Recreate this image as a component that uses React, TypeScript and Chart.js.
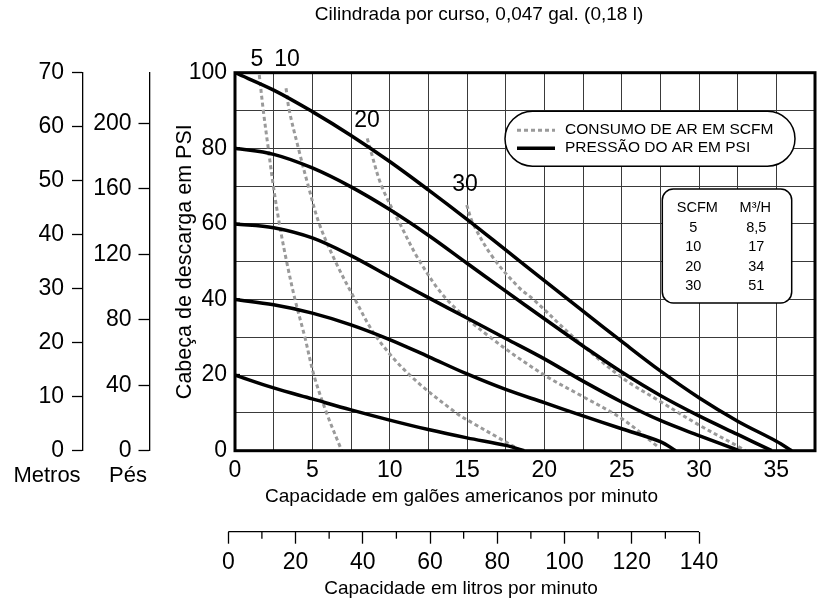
import React, { useEffect, useRef } from 'react';
import { Chart, registerables } from 'chart.js';

Chart.register(...registerables);

const FONT = "'Liberation Sans', Arial, Helvetica, sans-serif";

// ---- texts ----
const TITLE = 'Cilindrada por curso, 0,047 gal. (0,18 l)';
const X_TITLE = 'Capacidade em galões americanos por minuto';
const LPM_TITLE = 'Capacidade em litros por minuto';
const Y_TITLE = 'Cabeça de descarga em PSI';
const METROS_LABEL = 'Metros';
const PES_LABEL = 'Pés';
const LEGEND_LABELS = ['CONSUMO DE AR EM SCFM', 'PRESSÃO DO AR EM PSI'];
const TABLE_HEAD = ['SCFM', 'M³/H'];
const TABLE_SCFM = ['5', '10', '20', '30'];
const TABLE_M3H = ['8,5', '17', '34', '51'];

// ---- axes ----
const GPM_MIN = 0;
const GPM_MAX = 37.5;
const GPM_STEP = 2.5;
const GPM_LABEL_STEP = 5;
const PSI_MIN = 0;
const PSI_MAX = 100;
const PSI_STEP = 10;
const PSI_LABEL_STEP = 20;
const METROS_MAX = 70;
const METROS_STEP = 10;
const PES_MAX = 231;
const PES_STEP = 40;
const LPM_MIN = 2;
const LPM_MAX = 174.5;
const LPM_TICKS = [0, 20, 40, 60, 80, 100, 120, 140];
const LPM_MINOR = [10, 30, 50, 70, 90, 110, 130];

// ---- air pressure curves (gpm, psi) ----
const PSI_100 = [[0, 100], [2.5, 95.4], [5, 89.7], [7.5, 83.4], [10, 76.5], [12.5, 69], [15, 61.2], [17.5, 53.1], [20, 45], [22.5, 36.9], [25, 28.9], [27.5, 21.1], [30, 14], [32.5, 7.8], [35, 2.5], [36, 0]];
const PSI_80 = [[0, 80], [2.5, 78.4], [5, 74.8], [7.5, 69.8], [10, 63.8], [12.5, 57], [15, 49.6], [17.5, 42.2], [20, 34.9], [22.5, 27.7], [25, 20.8], [27.5, 14.6], [30, 9.2], [32.5, 4.3], [34.7, 0]];
const PSI_60 = [[0, 60], [2.5, 59], [5, 56.3], [7.5, 51.6], [10, 46], [12.5, 40.5], [15, 35.1], [17.5, 29.7], [20, 24.3], [22.5, 18.4], [25, 12.9], [27.5, 8], [30, 4], [32.6, 0]];
const PSI_40 = [[0, 40], [2.5, 38.6], [5, 36.4], [7.5, 33.3], [10, 29.4], [12.5, 24.9], [15, 20.3], [17.5, 16.2], [20, 12.7], [22.5, 9.2], [25, 5.8], [27.5, 2.4], [28.5, 0]];
const PSI_20 = [[0, 20], [2.5, 16.6], [5, 13.7], [7.5, 10.8], [10, 8.1], [12.5, 5.6], [15, 3.4], [17.5, 1.4], [18.7, 0]];

// ---- air consumption curves (gpm, psi) ----
const SCFM_5 = [[1.57, 99.4], [1.83, 90], [2.15, 80], [2.48, 70], [2.87, 60], [3.34, 50], [3.88, 40], [4.52, 30], [5.1, 20], [5.92, 10], [6.9, 0]];
const SCFM_10 = [[3.3, 95.9], [3.51, 90], [4.1, 80], [4.74, 70], [5.45, 60], [6.5, 50], [7.76, 40], [9.16, 30], [11.3, 20], [14.3, 10], [15.5, 7], [17, 3.5], [18.5, 0]];
const SCFM_20 = [[8.55, 82.6], [8.73, 80], [9.48, 70], [10.67, 60], [11.96, 50], [13.7, 40], [16.5, 30], [20, 20], [22.5, 14.3], [25, 8.5], [27.3, 1.2]];
const SCFM_30 = [[14.98, 65], [15.4, 60], [16.7, 51], [18.4, 43], [19.3, 40], [21.9, 30], [25, 19.4], [27.5, 13], [30, 6.8], [32.5, 1.2], [33, 0]];

// curve labels (text, gpm, psi)
const SCFM_LABELS = ['5', '10', '20', '30'];
const SCFM_LABEL_X = [1.42, 3.36, 8.53, 14.87];
const SCFM_LABEL_Y = [103.4, 103.4, 87.2, 70.3];

const PRESSURE_SERIES = [PSI_100, PSI_80, PSI_60, PSI_40, PSI_20];
const PRESSURE_NAMES = ['100 PSI', '80 PSI', '60 PSI', '40 PSI', '20 PSI'];
const SCFM_SERIES = [SCFM_5, SCFM_10, SCFM_20, SCFM_30];
const SCFM_NAMES = ['5 SCFM', '10 SCFM', '20 SCFM', '30 SCFM'];

const BLACK = '#000000';
const GRAY = '#9a9a9a';
const GRID = '#3a3a3a';

const TICK_SIZE = 23;
const TITLE_SIZE = 19;

const toPts = (arr: number[][]) => arr.map(([x, y]) => ({ x, y }));

function roundRectPath(ctx: CanvasRenderingContext2D, x: number, y: number, w: number, h: number, r: number) {
  ctx.beginPath();
  ctx.moveTo(x + r, y);
  ctx.lineTo(x + w - r, y);
  ctx.arcTo(x + w, y, x + w, y + r, r);
  ctx.lineTo(x + w, y + h - r);
  ctx.arcTo(x + w, y + h, x + w - r, y + h, r);
  ctx.lineTo(x + r, y + h);
  ctx.arcTo(x, y + h, x, y + h - r, r);
  ctx.lineTo(x, y + r);
  ctx.arcTo(x, y, x + r, y, r);
  ctx.closePath();
}

const overlayPlugin = {
  id: 'overlay',
  afterDatasetsDraw(chart: any) {
    const { ctx, chartArea: a, scales } = chart;
    const xs = scales.x;
    const ys = scales.y;
    ctx.save();

    // frame
    ctx.strokeStyle = BLACK;
    ctx.lineWidth = 3;
    ctx.strokeRect(a.left, a.top, a.right - a.left, a.bottom - a.top);

    // short inner marks at labelled psi values
    ctx.lineWidth = 2.5;
    for (let v = PSI_LABEL_STEP; v < PSI_MAX; v += PSI_LABEL_STEP) {
      const py = ys.getPixelForValue(v);
      ctx.beginPath();
      ctx.moveTo(a.left, py);
      ctx.lineTo(a.left + 5, py);
      ctx.stroke();
    }

    // curve labels
    ctx.fillStyle = BLACK;
    ctx.font = `${TICK_SIZE}px ${FONT}`;
    ctx.textAlign = 'center';
    ctx.textBaseline = 'middle';
    SCFM_LABELS.forEach((t, i) => {
      ctx.fillText(t, xs.getPixelForValue(SCFM_LABEL_X[i]), ys.getPixelForValue(SCFM_LABEL_Y[i]));
    });

    // legend pill
    const lx = a.left + 270;
    const lw = a.right - 20 - lx;
    const ly = a.top + 38.5;
    const lh = 55;
    roundRectPath(ctx, lx, ly, lw, lh, lh / 2);
    ctx.fillStyle = '#ffffff';
    ctx.fill();
    ctx.lineWidth = 1.5;
    ctx.strokeStyle = BLACK;
    ctx.stroke();
    ctx.lineWidth = 3;
    ctx.strokeStyle = GRAY;
    ctx.setLineDash([4, 3]);
    ctx.beginPath();
    ctx.moveTo(lx + 12, ly + 19);
    ctx.lineTo(lx + 50, ly + 19);
    ctx.stroke();
    ctx.setLineDash([]);
    ctx.lineWidth = 3.5;
    ctx.strokeStyle = BLACK;
    ctx.beginPath();
    ctx.moveTo(lx + 12, ly + 37);
    ctx.lineTo(lx + 50, ly + 37);
    ctx.stroke();
    ctx.fillStyle = BLACK;
    ctx.font = `15.5px ${FONT}`;
    ctx.textAlign = 'left';
    ctx.fillText(LEGEND_LABELS[0], lx + 60, ly + 19);
    ctx.fillText(LEGEND_LABELS[1], lx + 60, ly + 37);

    // table box
    const tx = a.right - 152.7;
    const ty = a.top + 116.3;
    const tw = 129.4;
    const th = 114;
    roundRectPath(ctx, tx, ty, tw, th, 11);
    ctx.fillStyle = '#ffffff';
    ctx.fill();
    ctx.lineWidth = 1.5;
    ctx.strokeStyle = BLACK;
    ctx.stroke();
    ctx.fillStyle = BLACK;
    ctx.font = `14.5px ${FONT}`;
    ctx.textAlign = 'center';
    ctx.fillText(TABLE_HEAD[0], tx + 35, ty + 19);
    ctx.fillText(TABLE_HEAD[1], tx + 93, ty + 19);
    TABLE_SCFM.forEach((t, i) => {
      const rowY = ty + 38.5 + i * 19.6;
      ctx.fillText(t, tx + 31, rowY);
      ctx.fillText(TABLE_M3H[i], tx + 94, rowY);
    });

    ctx.restore();
  },
  afterDraw(chart: any) {
    const { ctx, chartArea: a, scales } = chart;
    const lpm = scales.lpm;
    const m = scales.metros;
    const p = scales.pes;
    ctx.save();
    // litres ruler line and minor ticks
    ctx.strokeStyle = BLACK;
    ctx.lineWidth = 1.3;
    const y0 = lpm.top;
    ctx.beginPath();
    ctx.moveTo(lpm.getPixelForValue(LPM_TICKS[0]), y0);
    ctx.lineTo(lpm.getPixelForValue(LPM_TICKS[LPM_TICKS.length - 1]), y0);
    ctx.stroke();
    LPM_MINOR.forEach((v) => {
      const px = lpm.getPixelForValue(v);
      ctx.beginPath();
      ctx.moveTo(px, y0);
      ctx.lineTo(px, y0 + 7);
      ctx.stroke();
    });

    ctx.fillStyle = BLACK;
    ctx.textAlign = 'center';
    ctx.textBaseline = 'middle';
    // titles
    ctx.font = `${TITLE_SIZE}px ${FONT}`;
    ctx.fillText(TITLE, a.left + 244, 15);
    ctx.fillText(X_TITLE, a.left + 226.5, a.bottom + 46.3);
    ctx.fillText(LPM_TITLE, a.left + 226, a.bottom + 137.8);
    // unit names under the left rulers
    ctx.font = `22px ${FONT}`;
    ctx.fillText(METROS_LABEL, m.right - 36, a.bottom + 25.5);
    ctx.fillText(PES_LABEL, p.right - 22, a.bottom + 25.5);
    ctx.restore();
  },
};

export default function App() {
  const ref = useRef<HTMLCanvasElement | null>(null);

  useEffect(() => {
    if (!ref.current) return;
    Chart.defaults.font.family = FONT;
    Chart.defaults.color = BLACK;

    const datasets: any[] = [];
    PRESSURE_SERIES.forEach((s, i) => {
      datasets.push({
        label: PRESSURE_NAMES[i],
        data: toPts(s),
        borderColor: BLACK,
        borderWidth: 3.5,
        pointRadius: 0,
        tension: 0.35,
        fill: false,
      });
    });
    SCFM_SERIES.forEach((s, i) => {
      datasets.push({
        label: SCFM_NAMES[i],
        data: toPts(s),
        borderColor: GRAY,
        borderWidth: 3,
        borderDash: [4, 3],
        pointRadius: 0,
        tension: 0.35,
        fill: false,
      });
    });

    const tickFont = { family: FONT, size: TICK_SIZE };

    const chart = new Chart(ref.current, {
      type: 'line',
      data: { datasets },
      plugins: [overlayPlugin],
      options: {
        animation: false,
        responsive: false,
        layout: { padding: { left: 0, right: 18, top: 0, bottom: 0 } },
        plugins: {
          legend: { display: false },
          tooltip: { enabled: false },
          title: { display: false },
        },
        scales: {
          x: {
            type: 'linear',
            position: 'bottom',
            weight: 0,
            min: GPM_MIN,
            max: GPM_MAX,
            grid: { color: GRID, lineWidth: 1, drawTicks: false },
            border: { display: false },
            ticks: {
              stepSize: GPM_STEP,
              autoSkip: false,
              maxRotation: 0,
              padding: 6,
              font: tickFont,
              color: BLACK,
              callback: (v: any) => (Number(v) % GPM_LABEL_STEP === 0 ? String(v) : ''),
            },
            afterFit: (s: any) => { s.height = 81; },
          },
          lpm: {
            type: 'linear',
            position: 'bottom',
            weight: 1,
            min: LPM_MIN,
            max: LPM_MAX,
            afterBuildTicks: (s: any) => { s.ticks = LPM_TICKS.map((v) => ({ value: v })); },
            grid: { drawOnChartArea: false, drawTicks: true, tickLength: 12, tickColor: BLACK, tickWidth: 1.3 },
            border: { display: false },
            ticks: { autoSkip: false, maxRotation: 0, padding: 5.5, font: tickFont, color: BLACK },
            afterFit: (s: any) => { s.height = 69.3; },
          },
          top: {
            type: 'linear',
            position: 'top',
            min: 0,
            max: 1,
            grid: { display: false },
            border: { display: false },
            ticks: { display: false },
            afterFit: (s: any) => { s.height = 72.7; },
          },
          y: {
            type: 'linear',
            position: 'left',
            weight: 0,
            min: PSI_MIN,
            max: PSI_MAX,
            grid: { color: GRID, lineWidth: 1, drawTicks: false },
            border: { display: false },
            ticks: {
              stepSize: PSI_STEP,
              padding: 8,
              font: tickFont,
              color: BLACK,
              callback: (v: any) => (Number(v) % PSI_LABEL_STEP === 0 ? String(v) : ''),
            },
            title: { display: true, text: Y_TITLE, font: { family: FONT, size: 21.5 }, color: BLACK, padding: { top: 22, bottom: 0 } },
            afterFit: (s: any) => { s.width = 85; },
          },
          pes: {
            type: 'linear',
            position: 'left',
            weight: 1,
            min: 0,
            max: PES_MAX,
            grid: { drawOnChartArea: false, drawTicks: true, tickLength: 11.5, tickColor: BLACK, tickWidth: 1.3 },
            border: { display: true, color: BLACK, width: 1.3 },
            ticks: { stepSize: PES_STEP, includeBounds: false, padding: 7, font: tickFont, color: BLACK },
            afterFit: (s: any) => { s.width = 67; },
          },
          metros: {
            type: 'linear',
            position: 'left',
            weight: 2,
            min: 0,
            max: METROS_MAX,
            grid: { drawOnChartArea: false, drawTicks: true, tickLength: 11, tickColor: BLACK, tickWidth: 1.3 },
            border: { display: true, color: BLACK, width: 1.3 },
            ticks: { stepSize: METROS_STEP, includeBounds: false, padding: 8, font: tickFont, color: BLACK },
            afterFit: (s: any) => { s.width = 83; },
          },
        },
      } as any,
    });
    return () => chart.destroy();
  }, []);

  return (
    <div style={{ position: 'absolute', left: 0, top: 0, width: 833, height: 601, background: '#fff' }}>
      <canvas ref={ref} width={833} height={601} style={{ display: 'block' }} />
    </div>
  );
}
